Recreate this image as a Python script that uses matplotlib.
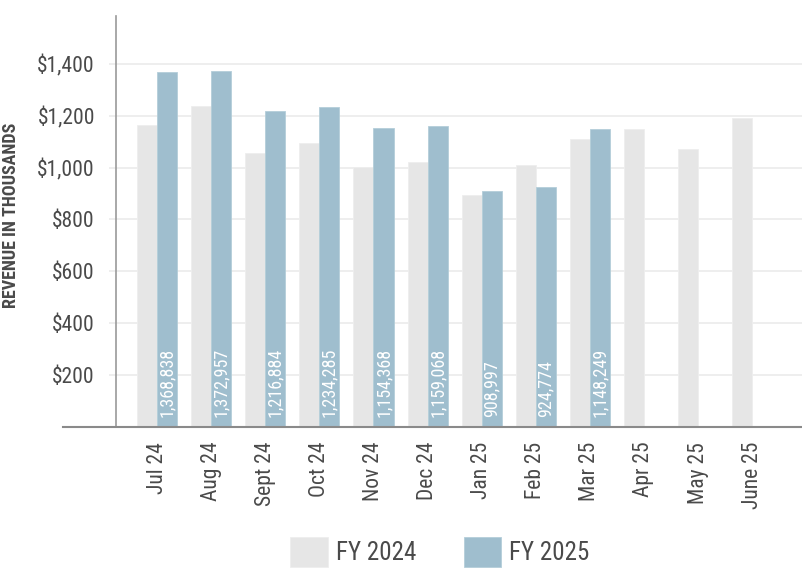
import matplotlib.pyplot as plt
import matplotlib.font_manager as fm
import numpy as np

# pick a condensed face, falling back to something installed
installed = {f.name for f in fm.fontManager.ttflist}
wanted = ["Roboto Condensed", "Barlow Semi Condensed", "PT Sans Narrow",
          "Archivo Narrow", "Fira Sans Condensed", "Liberation Sans"]
family = [f for f in wanted if f in installed][:1] + ["DejaVu Sans"]
plt.rcParams['font.family'] = family

months = ["Jul 24", "Aug 24", "Sept 24", "Oct 24", "Nov 24", "Dec 24",
          "Jan 25", "Feb 25", "Mar 25", "Apr 25", "May 25", "June 25"]
fy2024 = [1164, 1238, 1056, 1094, 1002, 1020, 894, 1010, 1109, 1149, 1071, 1193]
fy2025 = [1368.838, 1372.957, 1216.884, 1234.285, 1154.368, 1159.068,
          908.997, 924.774, 1148.249]
fy2025_labels = ["1,368,838", "1,372,957", "1,216,884", "1,234,285", "1,154,368",
                 "1,159,068", "908,997", "924,774", "1,148,249"]
yticks = [200, 400, 600, 800, 1000, 1200, 1400]

c24 = "#e6e6e6"
c25 = "#9fbece"
txt = "#4a4a4a"

fig = plt.figure(figsize=(8.03, 5.72), dpi=100)
ax = fig.add_axes([116 / 803, 145.5 / 572, 687 / 803, 410.5 / 572])

x = np.arange(len(months))
w = 20 / 54
ax.bar(x - w / 2, fy2024, width=w, color=c24, edgecolor="#eeeeee", linewidth=0.6,
       label="FY 2024", zorder=2)
x25 = x[:len(fy2025)]
ax.bar(x25 + w / 2, fy2025, width=w, color=c25, edgecolor="#b4ced9", linewidth=0.6,
       label="FY 2025", zorder=2)

for xi, lab in zip(x25, fy2025_labels):
    ax.text(xi + w / 2, 35, lab, rotation=90, ha="center", va="bottom",
            color="white", fontsize=13, zorder=3)

ax.set_xlim(-0.76, 11.94)
ax.set_ylim(0, 1585)
ax.set_yticks(yticks)
ax.set_yticklabels(["${:,}".format(v) for v in yticks])
ax.set_xticks(x)
ax.set_xticklabels(months, rotation=90, va="top")

ax.grid(axis="y", color="#ebebeb", linewidth=1.2, zorder=0)
ax.tick_params(axis="y", length=5.2, width=1.2, color="#ebebeb", pad=10,
               labelsize=15.5, labelcolor=txt)
ax.tick_params(axis="x", length=0, pad=11, labelsize=15.5, labelcolor=txt)

for s in ["top", "right", "bottom"]:
    ax.spines[s].set_visible(False)
ax.spines["left"].set_color("#999999")
ax.spines["left"].set_linewidth(1.2)

# baseline runs past the y axis on the left
ax.plot([-1.74, 11.94], [0, 0], color="#8a8a8a", linewidth=1.5, clip_on=False, zorder=4)

fig.text(11 / 803, 1 - 215 / 572, "REVENUE IN THOUSANDS", rotation=90, ha="center",
         va="center", fontsize=13, fontweight="bold", color=txt)

fig.legend(loc="center", bbox_to_anchor=(440 / 803, 1 - 552 / 572), ncol=2,
           frameon=False, fontsize=18, handlelength=1.5, handleheight=1.45,
           handletextpad=0.33, columnspacing=1.9, labelcolor=txt)

fig.savefig("out.png", dpi=100)
